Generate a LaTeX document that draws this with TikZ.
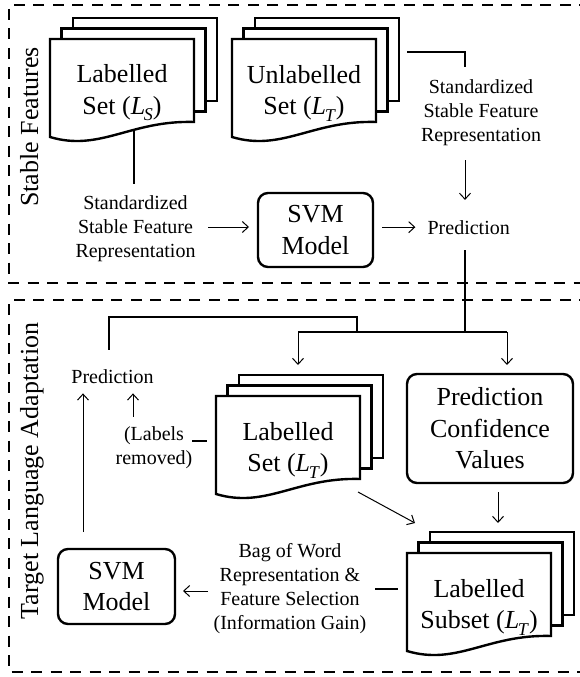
\documentclass[tikz,border=0pt]{standalone}
\usepackage{fontspec}
\setmainfont{Liberation Serif}
\usetikzlibrary{arrows.meta,calc}
\tikzset{
  docline/.style={line width=2.4pt, line join=miter},
  docframe/.style={draw=none, minimum width=144pt, minimum height=98pt, inner sep=0pt, outer sep=0pt},
  bigtext/.style={font=\fontsize{26}{31.5}\selectfont, align=center, inner sep=0pt},
  smalltext/.style={font=\fontsize{20}{24}\selectfont, align=center, inner sep=0pt},
  roundbox/.style={draw, line width=2.4pt, rounded corners=10pt, font=\fontsize{26}{31.5}\selectfont, align=center, inner sep=0pt, outer sep=0pt},
  conn/.style={line width=2pt},
  arr/.style={line width=1pt, -{Straight Barb[length=6pt,width=11pt]}},
  region/.style={line width=2.4pt, dash pattern=on 11pt off 8.5pt, line join=miter},
}
\newcommand\subL[1]{(\textit{L}\kern-0.05em\raisebox{-0.25em}{\fontsize{18}{18}\selectfont\textit{#1}})}
\newcommand\docstack[1]{%
  \draw[docline] ([shift={(11.5,0)}]#1.north west) -- ++(0,-10.5) -- ++(144,0) -- ++(0,83) -- ++(-11.5,0);
  \draw[docline] ([shift={(23,-10.5)}]#1.north west) -- ++(0,-10.5) -- ++(144,0) -- ++(0,83) -- ++(-11.5,0);
  \draw[docline] (#1.south west) -- (#1.north west) -- (#1.north east) -- ++(0,83)
     .. controls +(-63,-2) and +(50,15) .. (#1.south west) -- cycle;
}
\begin{document}
\begin{tikzpicture}[x=1pt,y=-1pt]
\useasboundingbox (0,0) rectangle (579,677);

% regions
\draw[region] (590,5) -- (9,5) -- (9,283) -- (590,283);
\draw[region] (590,300) -- (9,300) -- (9,672) -- (590,672);
\node[bigtext, rotate=90, anchor=base] (rl1) at (38,127) {Stable Features};
\node[bigtext, rotate=90, anchor=base] (rl2) at (38,471) {Target Language Adaptation};

% documents
\node[docframe] (ls) at (122,88) {};
\node[docframe] (lt) at (304,88) {};
\node[docframe] (lm) at (288,445) {};
\node[docframe] (sub) at (479,602) {};
\docstack{ls}
\docstack{lt}
\docstack{lm}
\docstack{sub}
\node[bigtext] (lsT) at (122,93) {Labelled\\Set \subL{S}};
\node[bigtext] (ltT) at (304,93) {Unlabelled\\Set \subL{T}};
\node[bigtext] (lmT) at (288,450) {Labelled\\Set \subL{T}};
\node[bigtext] (subT) at (479,607) {Labelled\\Subset \subL{T}};

% boxes
\node[roundbox, minimum width=115pt, minimum height=74pt] (svm1) at (315.5,230) {SVM\\Model};
\node[roundbox, minimum width=117pt, minimum height=75pt] (svm2) at (116.5,586.5) {SVM\\Model};
\node[roundbox, minimum width=166pt, minimum height=109pt] (pcv) at (490,428.5) {Prediction\\Confidence\\Values};

% small texts
\node[smalltext] (stdL) at (135.5,228.3) {Standardized\\Stable Feature\\Representation};
\node[smalltext] (stdR) at (481,113) {Standardized\\Stable Feature\\Representation};
\node[smalltext, anchor=base] (pred1) at (468.7,234) {Prediction};
\node[smalltext, anchor=base] (pred2) at (112.5,383) {Prediction};
\node[smalltext] (labrem) at (154,448) {(Labels\\removed)};
\node[smalltext] (bow) at (290,588.8) {Bag of Word\\Representation \&\\Feature Selection\\(Information Gain)};

% junctions
\coordinate (tr) at (465,52);
\coordinate (j1) at (465,332);
\coordinate (jl) at (298,332);
\coordinate (jr) at (507,332);
\coordinate (jt) at (357,317);

% top region connectors
\draw[conn] ($(ls.south)+(12,-6)$) -- ($(ls.south |- stdL.north)+(12,-11)$);
\draw[arr] ($(svm1.west)+(-50,-3)$) -- ($(svm1.west)+(-9,-3)$);
\draw[arr] ($(svm1.east |- pred1.west)+(9,0)$) -- ($(pred1.west)+(-12,0)$);
\draw[conn] ($(lt.north east)+(31,13)$) -- (tr) -- ($(stdR.north -| tr)+(0,-12.5)$);
\draw[arr] ($(stdR.south -| tr)+(0,14)$) -- ($(pred1.north -| tr)+(0,-20)$);

% bottom region connectors
\draw[conn] ($(pred1.south -| tr)+(0,16)$) -- (j1);
\draw[conn] (jl) -- (jr);
\draw[arr] (jl) -- ($(lm.north -| jl)+(0,-31)$);
\draw[arr] (jr) -- ($(pcv.north -| jr)+(0,-9)$);
\draw[conn] ($(pred2.north)+(-3.5,-19)$) |- (jt) -- (jt |- j1);
\draw[arr] ($(svm2.north)+(-33.5,-17)$) -- ($(pred2.south -| svm2.north)+(-33.5,10)$);
\draw[arr] ($(labrem.north)+(-21,-10)$) -- ($(pred2.south -| labrem.north)+(-21,10)$);
\draw[conn] ($(lm.west)+(-24,-4)$) -- ++(15,0);
\draw[arr] ($(lm.south east)+(-2,-2)$) -- ($(sub.north west)+(8,-30)$);
\draw[arr] ($(pcv.south)+(8,9)$) -- ($(pcv.south)+(8,40)$);
\draw[conn] ($(sub.west)+(-32,-13)$) -- ++(23,0);
\draw[arr] ($(svm2.east)+(33,4.5)$) -- ($(svm2.east)+(8,4.5)$);
\end{tikzpicture}
\end{document}
